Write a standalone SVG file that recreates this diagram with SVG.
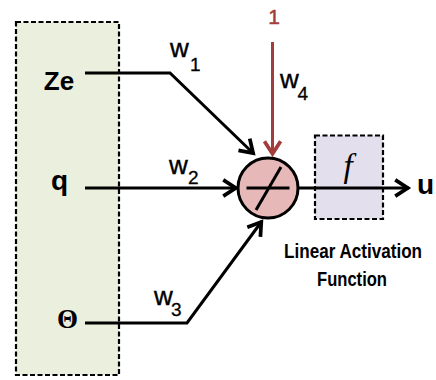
<svg xmlns="http://www.w3.org/2000/svg" width="436" height="380" viewBox="0 0 436 380">
<defs>
<style>
.box{stroke:#000;stroke-width:2.2;stroke-dasharray:5 2.5}
.con{fill:none;stroke:#000;stroke-width:3;stroke-linejoin:miter}
.var{font-family:"Liberation Sans",Arial,sans-serif;font-weight:bold;fill:#000}
.w{font-family:"Liberation Sans",Arial,sans-serif;font-size:26px;fill:#000;stroke:#000;stroke-width:0.4}
.sub{font-family:"Liberation Sans",Arial,sans-serif;font-size:19px;fill:#000;stroke:#000;stroke-width:0.3}
.lbl{font-family:"Liberation Sans",Arial,sans-serif;font-weight:bold;font-size:18px;fill:#000;text-anchor:middle}
</style>
<marker id="ah" markerUnits="userSpaceOnUse" markerWidth="20" markerHeight="20" viewBox="-14 -8 16 16" refX="0" refY="0" orient="auto">
<path d="M-11,-6.5 L-1,0 L-11,6.5" fill="none" stroke="#000" stroke-width="3"/>
</marker>
<marker id="ahr" markerUnits="userSpaceOnUse" markerWidth="20" markerHeight="20" viewBox="-14 -8 16 16" refX="0" refY="0" orient="auto">
<path d="M-11,-6.5 L-1,0 L-11,6.5" fill="none" stroke="#a33c3c" stroke-width="3"/>
</marker>
</defs>
<rect width="436" height="380" fill="#fff"/>

<g id="inputs">
<rect class="box" x="16" y="22" width="103" height="353" fill="#ebefde"/>
<text class="var" x="59" y="89.5" font-size="26" text-anchor="middle">Ze</text>
<text class="var" x="59.5" y="190" font-size="28" text-anchor="middle">q</text>
<text x="67.5" y="327.5" font-family="Liberation Serif,'Times New Roman',serif" font-weight="bold" font-size="27" text-anchor="middle">Θ</text>
</g>

<g id="connectors">
<polyline class="con" points="85,73 170,73 254,154" marker-end="url(#ah)"/>
<line class="con" x1="85" y1="188" x2="237" y2="188" marker-end="url(#ah)"/>
<polyline class="con" points="85,323 187,323 262,221" marker-end="url(#ah)"/>
<line class="con" x1="272.5" y1="42" x2="272.5" y2="155" style="stroke:#a33c3c" marker-end="url(#ahr)"/>
<line class="con" x1="298" y1="188" x2="409" y2="188" marker-end="url(#ah)"/>
</g>

<g id="weights">
<text class="w" x="170" y="57">w</text><text class="sub" x="190" y="70.5">1</text>
<text class="w" x="169" y="173.5">w</text><text class="sub" x="188" y="183.5">2</text>
<text class="w" x="154" y="305">w</text><text class="sub" x="171" y="316">3</text>
<text class="w" x="280" y="87.5">w</text><text class="sub" x="297.5" y="100">4</text>
</g>

<g id="bias">
<text x="274" y="24" font-family="Liberation Sans,Arial,sans-serif" font-size="21" fill="#a33c3c" stroke="#a33c3c" stroke-width="0.5" text-anchor="middle">1</text>
</g>

<g id="summation">
<circle cx="268" cy="188" r="30" fill="#e6b9b8" stroke="#000" stroke-width="3"/>
<line x1="246.5" y1="188" x2="289.5" y2="188" stroke="#000" stroke-width="3"/>
<line x1="256" y1="210" x2="281" y2="167" stroke="#000" stroke-width="3"/>
</g>

<g id="activation">
<rect class="box" x="315" y="135.5" width="68" height="83.5" fill="#e4dfec"/>
<line x1="315" y1="188" x2="383" y2="188" stroke="#000" stroke-width="3"/>
<text x="348" y="177" font-family="Liberation Serif,'Times New Roman',serif" font-style="italic" font-size="33" text-anchor="middle">f</text>
<text class="lbl" transform="translate(353,258) scale(1,1.15)" x="0" y="0" textLength="138" lengthAdjust="spacingAndGlyphs">Linear Activation</text>
<text class="lbl" transform="translate(352,285.5) scale(1,1.15)" x="0" y="0" textLength="70" lengthAdjust="spacingAndGlyphs">Function</text>
</g>

<g id="output">
<text class="var" x="425.5" y="193.5" font-size="28" text-anchor="middle">u</text>
</g>
</svg>
